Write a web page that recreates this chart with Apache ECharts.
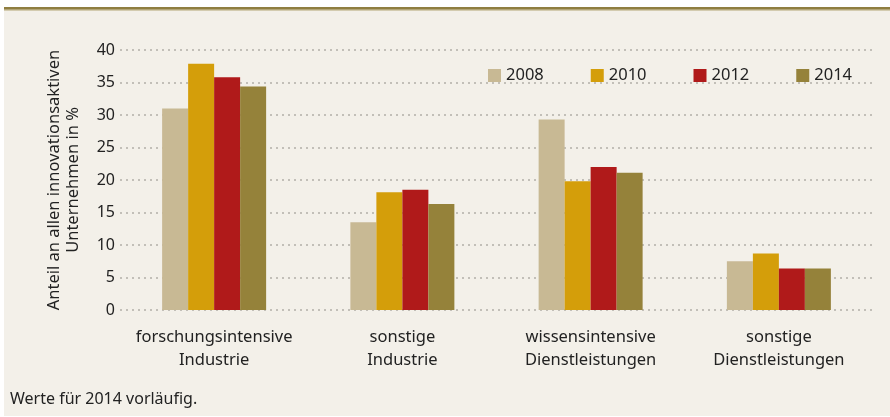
<!DOCTYPE html>
<html>
<head>
<meta charset="utf-8">
<script src="https://cdn.jsdelivr.net/npm/echarts@6/dist/echarts.min.js"></script>
<style>
  html, body { margin: 0; padding: 0; background: #fff; }
  #main { width: 890px; height: 417px; }
</style>
</head>
<body>
<div id="main"></div>
<script>
// Kategorien (zweizeilig wie im Original)
let categories = ["forschungsintensive\nIndustrie", "sonstige\nIndustrie", "wissensintensive\nDienstleistungen", "sonstige\nDienstleistungen"];
let years = ["2008", "2010", "2012", "2014"];
// Anteil in %, je Jahr
let v2008 = [31.0, 13.5, 29.3, 7.5];
let v2010 = [37.9, 18.1, 19.8, 8.7];
let v2012 = [35.8, 18.5, 22.0, 6.4];
let v2014 = [34.4, 16.3, 21.1, 6.4];
let colors = ["#c8b994", "#d49e0a", "#b01a1a", "#95823a"];

let font = "Noto Sans";
let allValues = [v2008, v2010, v2012, v2014];

var myChart = echarts.init(document.getElementById('main'));

var option = {
    backgroundColor: "#fff",
    textStyle: { fontFamily: font },
    graphic: [
        { type: "rect", z: -10, shape: { x: 4, y: 9, width: 886, height: 407 }, style: { fill: "#f3f0e9" } },
        { type: "rect", z: -9, shape: { x: 4, y: 7, width: 886, height: 2 }, style: { fill: "#8f7e40" } },
        { type: "rect", z: -9, shape: { x: 4, y: 9, width: 886, height: 1.5 }, style: { fill: "#b3a577" } },
        { type: "text", left: 10, top: 391, style: { text: "Werte für 2014 vorläufig.", fill: "#222", font: "16px " + font } }
    ],
    legend: {
        data: years,
        left: 483,
        top: 62,
        itemWidth: 13,
        itemHeight: 13,
        itemGap: 47,
        icon: "rect",
        textStyle: { fontSize: 16.5, color: "#222", fontFamily: font }
    },
    grid: { left: 120, right: 17, top: 50, bottom: 107 },
    xAxis: {
        type: "category",
        data: categories,
        axisLine: { show: false },
        axisTick: { show: false },
        axisLabel: { interval: 0, fontSize: 16.5, color: "#222", lineHeight: 23, margin: 16, fontFamily: font }
    },
    yAxis: {
        type: "value",
        min: 0, max: 40, interval: 5,
        name: "Anteil an allen innovationsaktiven\nUnternehmen in %",
        nameLocation: "middle",
        nameGap: 37,
        nameMoveOverlap: false,
        nameTextStyle: { fontSize: 16.5, color: "#222", lineHeight: 19, align: "center", fontFamily: font },
        axisLine: { show: false },
        axisTick: { show: false },
        axisLabel: { fontSize: 16, color: "#222", margin: 5, fontFamily: font },
        splitLine: { lineStyle: { color: "#b3afa8", width: 1.5, type: [2, 4] } }
    },
    series: years.map(function (y, i) {
        return {
            name: y,
            type: "bar",
            data: allValues[i],
            barWidth: 26,
            barGap: "0%",
            itemStyle: { color: colors[i] }
        };
    })
};
myChart.setOption(option);
</script>
</body>
</html>
